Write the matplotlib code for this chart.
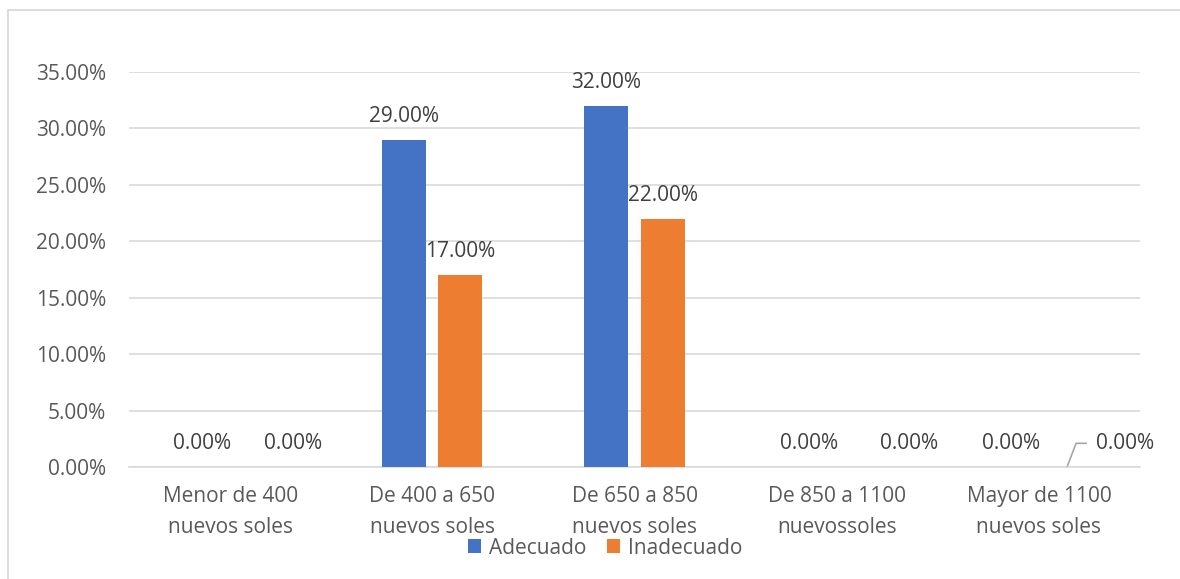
import numpy as np
import matplotlib.pyplot as plt
from matplotlib.patches import Rectangle

plt.rcParams['font.family'] = ['Open Sans', 'DejaVu Sans']

categorias = ['Menor de 400\nnuevos soles', 'De 400 a 650\nnuevos soles',
              'De 650 a 850\nnuevos soles', 'De 850 a 1100\nnuevossoles',
              'Mayor de 1100\nnuevos soles']
adecuado = [0.0, 29.0, 32.0, 0.0, 0.0]
inadecuado = [0.0, 17.0, 22.0, 0.0, 0.0]
series = ['Adecuado', 'Inadecuado']
colores = ['#4472C4', '#ED7D31']

fs = 15
fig = plt.figure(figsize=(11.8, 5.79), dpi=100)
ax = fig.add_axes([129/1180, 1-467/579, 1011/1180, 395/579])

# chart frame
fig.patches.append(Rectangle((8/1180, -0.05), 1.2, 1-10/579+0.05, transform=fig.transFigure,
                             fill=False, edgecolor='#d9d9d9', lw=1.3))

x = np.arange(len(categorias))
w = 0.218
off = 0.139
ax.bar(x - off, adecuado, w, color=colores[0], label=series[0], zorder=3)
ax.bar(x + off, inadecuado, w, color=colores[1], label=series[1], zorder=3)

txt = '#404040'
# labels of zero-height orange bars were nudged right in the original
nudge = [0.17, 0, 0, 0.22, 0]
for i, v in enumerate(adecuado):
    ax.text(x[i] - off, v + 1.6, f'{v:.2f}%', ha='center', va='baseline', fontsize=fs, color=txt)
for i, v in enumerate(inadecuado):
    if i == len(inadecuado) - 1:
        # leader line for the last label
        ax.plot([x[i] + off, x[i] + off + 0.045, x[i] + off + 0.094],
                [0, 2.1, 2.1], color='#a6a6a6', lw=1.2, clip_on=False)
        ax.text(x[i] + off + 0.145, 1.6, f'{v:.2f}%', ha='left', va='baseline', fontsize=fs, color=txt)
    else:
        ax.text(x[i] + off + nudge[i], v + 1.6, f'{v:.2f}%', ha='center', va='baseline',
                fontsize=fs, color=txt)

ax.set_xlim(-0.5, len(categorias) - 0.5)
ax.set_ylim(0, 35)
ax.set_yticks(np.arange(0, 36, 5))
ax.set_yticklabels([f'{t:.2f}%' for t in np.arange(0, 36, 5)])
ax.set_xticks(x)
ax.set_xticklabels(categorias, linespacing=1.6)
ax.tick_params(axis='both', length=0, labelsize=fs, colors='#595959')
ax.tick_params(axis='x', pad=14)
ax.tick_params(axis='y', pad=16.5)
ax.grid(axis='y', color='#d9d9d9', lw=1.2, zorder=0)
for s in ['top', 'right', 'left']:
    ax.spines[s].set_visible(False)
ax.spines['bottom'].set_color('#d9d9d9')
ax.spines['bottom'].set_linewidth(1.2)

leg = fig.legend(loc='center', bbox_to_anchor=(605/1180, 1-548/579), ncol=2, frameon=False,
                 fontsize=fs, handlelength=0.65, handleheight=0.65, handletextpad=0.35,
                 columnspacing=1.0)
for t in leg.get_texts():
    t.set_color('#595959')

fig.savefig('out.png', dpi=100)
